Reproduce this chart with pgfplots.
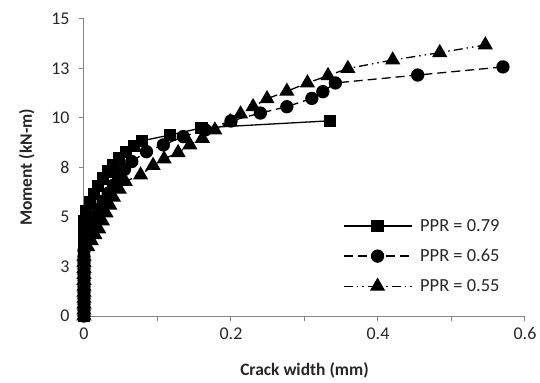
\documentclass[border=0pt]{standalone}
\usepackage{pgfplots}
\pgfplotsset{compat=1.18}
\usepackage{fontspec}
\setmainfont{Carlito}
\definecolor{axgray}{HTML}{868686}
\definecolor{txt}{HTML}{262626}
\begin{document}
\begin{tikzpicture}
\path (-84bp,-67bp) rectangle (456bp,316bp);
\begin{axis}[
  at={(0,0)}, anchor=south west,
  scale only axis, width=441bp, height=297bp,
  xmin=0, xmax=0.6, ymin=0, ymax=15,
  axis x line=bottom, axis y line=left,
  axis line style={draw=axgray, line width=1bp, -},
  tick style={draw=axgray, line width=1bp},
  tick align=outside, major tick length=5bp,
  xtick={0,0.1,0.2,0.3,0.4,0.5,0.6},
  xticklabels={0,,0.2,,0.4,,0.6},
  ytick={0,2.5,5,7.5,10,12.5,15},
  yticklabels={0,3,5,8,10,13,15},
  /pgf/number format/assume math mode=true,
  ticklabel style={font=\fontsize{18}{18}\selectfont, text=txt},
  xticklabel style={yshift=-3bp},
  yticklabel style={xshift=-6bp},
  xlabel={\textbf{Crack width (mm)}},
  ylabel={\textbf{Moment (kN-m)}},
  label style={font=\fontsize{17.5}{17.5}\selectfont, text=txt},
  xlabel style={yshift=-16bp},
  ylabel style={yshift=10bp},
  clip=false,
  legend style={draw=none, fill=none, at={(axis cs:0.352,5.0)}, anchor=north west, inner sep=0pt,
     font=\fontsize{18.5}{18.5}\selectfont, text=txt, row sep=12.5bp, column sep=6bp, cells={anchor=west}},
  legend image code/.code={\draw[mark repeat=2,mark phase=2] plot coordinates {(0bp,0bp) (34bp,0bp) (68bp,0bp)};},
]
\addplot[black, line width=1.3bp, mark=square*, mark size=5.5bp, mark options={solid, fill=black}] coordinates {
(0,0) (0,0.3) (0,0.6) (0,0.9) (0,1.2) (0,1.5) (0,1.8) (0,2.1) (0,2.4) (0,2.7) (0,3.0) (0,3.3) (0,3.6) (0,3.9) (0,4.2) (0,4.5) (0,4.8)
(0.003,5.3) (0.008,5.75) (0.014,6.15) (0.019,6.55) (0.026,6.95) (0.033,7.3) (0.039,7.6) (0.048,7.95) (0.057,8.3) (0.068,8.6) (0.079,8.85)
(0.117,9.14) (0.16,9.5) (0.335,9.86)
};
\addlegendentry{PPR = 0.79}
\addplot[black, line width=1.3bp, dash pattern=on 9bp off 5bp, mark=*, mark size=6bp, mark options={solid, fill=black}] coordinates {
(0,0) (0,0.3) (0,0.6) (0,0.9) (0,1.2) (0,1.5) (0,1.8) (0,2.1) (0,2.4) (0,2.7) (0,3.0) (0,3.3)
(0.003,3.8) (0.006,4.2) (0.01,4.6) (0.015,5.0) (0.02,5.4) (0.026,5.8) (0.033,6.2) (0.04,6.6) (0.047,7.0) (0.055,7.4) (0.065,7.8)
(0.085,8.3) (0.108,8.64) (0.135,9.06) (0.165,9.4) (0.2,9.85) (0.24,10.25) (0.276,10.57) (0.31,10.99) (0.325,11.33) (0.342,11.77)
(0.454,12.17) (0.57,12.58)
};
\addlegendentry{PPR = 0.65}
\addplot[black, line width=1.3bp, dash pattern=on 9bp off 4bp on 1.5bp off 4bp on 1.5bp off 4bp, mark=triangle*, mark size=7.5bp, mark options={solid, fill=black}] coordinates {
(0,0) (0,0.3) (0,0.6) (0,0.9) (0,1.2) (0,1.5) (0,1.8) (0,2.1) (0,2.4) (0,2.7) (0,3.0)
(0.005,3.5) (0.01,3.8) (0.015,4.1) (0.02,4.4) (0.025,4.8) (0.03,5.2) (0.035,5.6) (0.04,6.0) (0.048,6.4) (0.056,6.8) (0.077,7.12)
(0.094,7.6) (0.109,7.93) (0.128,8.25) (0.144,8.64) (0.161,8.97) (0.178,9.39) (0.199,9.81) (0.213,10.2) (0.23,10.57) (0.249,10.97)
(0.276,11.35) (0.304,11.77) (0.332,12.14) (0.359,12.5) (0.42,12.93) (0.484,13.3) (0.546,13.69)
};
\addlegendentry{PPR = 0.55}
\end{axis}
\end{tikzpicture}
\end{document}
